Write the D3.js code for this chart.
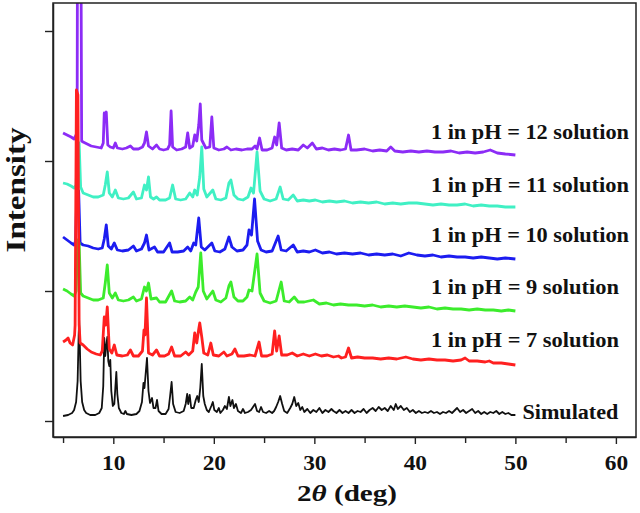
<!DOCTYPE html>
<html><head><meta charset="utf-8">
<script src="https://cdn.jsdelivr.net/npm/d3@7"></script>
<style>
body{margin:0;background:#fff;}
text{font-family:"Liberation Serif","Times New Roman",Times,serif;font-weight:bold;fill:#111;}
</style></head>
<body><svg id="chart" width="640" height="513"></svg>
<script>
// ---------------- DATA ----------------
const seriesNames = ["Simulated","1 in pH = 7 solution","1 in pH = 9 solution","1 in pH = 10 solution","1 in pH = 11 solution","1 in pH = 12 solution"];
const seriesOffsets = [5, 56, 110, 162, 214, 266];
const seriesColors = ["#111111","#ff2020","#3cec2c","#1c1cf0","#40f0c4","#8c2cf6"];

const simulated = [[5.0,0],[5.5,1],[5.9,3],[6.1,6],[6.3,14],[6.45,35],[6.55,80],[6.6,96],[6.65,80],[6.75,35],[6.9,14],[7.1,6],[7.3,3],[7.7,1],[8.2,1],[8.6,3],[8.85,8],[9.0,30],[9.1,78],[9.2,60],[9.3,70],[9.4,79],[9.5,55],[9.6,50],[9.7,56],[9.8,25],[9.95,10],[10.1,12],[10.2,28],[10.3,44],[10.4,22],[10.55,8],[10.8,3],[11.05,2],[11.2,5],[11.35,2],[11.8,1],[12.3,2],[12.6,5],[12.85,14],[13.0,33],[13.1,28],[13.2,40],[13.35,58],[13.5,25],[13.65,13],[13.85,18],[14.0,8],[14.2,8],[14.35,16],[14.5,5],[14.8,2],[15.2,2],[15.5,7],[15.65,20],[15.8,34],[15.95,12],[16.2,4],[16.6,3],[17.0,5],[17.2,12],[17.35,22],[17.45,12],[17.6,21],[17.75,8],[18.0,8],[18.2,16],[18.35,20],[18.5,14],[18.65,28],[18.8,52],[18.95,20],[19.1,12],[19.3,6],[19.5,4],[19.75,10],[19.9,14],[20.05,6],[20.3,4],[20.5,8],[20.65,3],[20.9,6],[21.1,10],[21.3,7],[21.5,19],[21.65,10],[21.85,16],[22.0,8],[22.2,12],[22.4,5],[22.7,3],[22.9,7],[23.1,3],[23.4,4],[23.7,6],[23.9,9],[24.1,12],[24.3,5],[24.5,4],[24.7,9],[24.9,4],[25.2,3],[25.5,5],[25.8,3],[26.0,5],[26.2,9],[26.4,14],[26.6,20],[26.8,12],[27.0,5],[27.3,3],[27.6,8],[27.8,12],[28.0,19],[28.2,10],[28.4,13],[28.6,6],[28.8,9],[29.0,4],[29.3,7],[29.6,3],[29.9,6],[30.2,4],[30.5,8],[30.8,3],[31.1,6],[31.4,4],[31.7,7],[31.9,5],[32.2,3],[32.5,6],[32.8,3],[33.1,5],[33.4,3],[33.7,6],[34.0,3],[34.3,5],[34.6,4],[34.9,7],[35.2,3],[35.5,6],[35.8,8],[36.1,5],[36.4,9],[36.7,6],[37.0,8],[37.3,5],[37.6,10],[37.9,6],[38.1,12],[38.3,7],[38.6,10],[38.9,6],[39.2,8],[39.5,4],[39.8,6],[40.1,3],[40.4,5],[40.7,3],[41.0,4],[41.3,3],[41.6,5],[41.9,3],[42.2,4],[42.5,2],[42.8,4],[43.1,3],[43.4,5],[43.7,3],[44.0,6],[44.2,8],[44.5,4],[44.8,6],[45.1,3],[45.4,5],[45.7,7],[46.0,3],[46.3,5],[46.6,2],[46.9,4],[47.2,2],[47.5,4],[47.8,3],[48.1,5],[48.4,2],[48.7,4],[49.0,2],[49.3,3],[49.6,1],[50.0,1]];

const pH7 = [[5.0,23],[5.3,25],[5.5,27],[5.7,22],[5.95,20],[6.15,30],[6.2,40],[6.33,275],[6.48,270],[6.6,40],[6.7,22],[7.0,20],[7.4,16],[7.8,13],[8.3,11],[8.7,10],[8.9,14],[9.1,48],[9.25,40],[9.4,58],[9.6,16],[9.85,12],[10.1,20],[10.35,10],[10.9,9],[11.4,10],[11.7,15],[12.0,9],[12.5,9],[12.9,14],[13.05,35],[13.15,30],[13.3,67],[13.5,12],[13.9,10],[14.3,15],[14.6,9],[15.1,9],[15.5,11],[15.8,18],[16.1,9],[16.7,9],[17.2,13],[17.5,10],[17.9,14],[18.1,32],[18.3,22],[18.5,36],[18.6,42],[18.8,28],[19.0,12],[19.4,10],[19.7,22],[19.95,10],[20.5,9],[21.0,13],[21.3,9],[21.8,11],[22.1,16],[22.4,9],[23.0,9],[23.6,10],[24.1,9],[24.5,23],[24.75,9],[25.3,9],[25.8,11],[26.05,34],[26.25,14],[26.5,29],[26.75,10],[27.3,10],[27.8,12],[28.3,9],[28.9,11],[29.5,9],[30.1,11],[30.7,9],[31.3,10],[31.9,8],[32.4,9],[32.7,7],[33.1,8],[33.4,17],[33.7,7],[34.3,8],[35.0,7],[35.8,7],[36.6,6],[37.4,7],[38.2,6],[39.1,8],[39.8,6],[40.6,5],[41.4,6],[42.2,5],[43.0,5],[43.8,4],[44.6,5],[45.0,7],[45.4,4],[46.2,4],[47.0,3],[47.4,4],[47.8,2],[48.6,2],[49.3,1],[50.0,0]];

const pH9 = [[5.0,22],[5.4,20],[5.8,17],[6.1,15],[6.3,20],[6.45,71],[6.6,68],[6.75,18],[7.0,15],[7.5,13],[8.0,11],[8.5,11],[9.0,13],[9.2,28],[9.4,46],[9.6,18],[9.9,13],[10.2,18],[10.5,11],[11.0,10],[11.5,11],[12.0,14],[12.3,10],[12.8,12],[13.1,24],[13.3,20],[13.5,28],[13.75,12],[14.3,13],[14.6,9],[15.2,9],[15.8,20],[16.1,10],[16.6,9],[17.2,10],[17.6,14],[17.9,11],[18.2,19],[18.45,24],[18.7,58],[18.95,20],[19.3,12],[19.9,20],[20.2,11],[20.7,9],[21.2,13],[21.5,25],[21.7,29],[22.0,14],[22.4,10],[22.9,10],[23.3,14],[23.5,21],[23.8,20],[24.3,57],[24.6,18],[25.0,10],[25.6,8],[26.2,10],[26.7,29],[27.0,10],[27.5,9],[28.0,14],[28.4,9],[29.0,9],[29.9,11],[30.5,7],[31.2,8],[31.9,6],[32.6,7],[33.4,6],[34.2,6],[35.0,5],[35.8,6],[36.6,4],[37.4,5],[38.2,4],[39.0,5],[39.8,4],[40.6,3],[41.4,4],[42.2,2],[43.0,3],[43.8,2],[44.6,2],[45.4,1],[46.2,2],[47.0,1],[47.8,1],[48.6,0],[49.3,1],[50.0,0]];

const pH10 = [[5.0,22],[5.4,19],[5.8,16],[6.1,14],[6.25,18],[6.38,70],[6.55,68],[6.7,16],[7.0,14],[7.5,13],[8.0,11],[8.5,10],[8.9,11],[9.1,20],[9.3,34],[9.5,13],[9.8,10],[10.1,16],[10.4,9],[10.9,8],[11.5,9],[12.0,13],[12.3,8],[12.8,10],[13.1,16],[13.3,24],[13.55,9],[14.1,12],[14.4,7],[15.0,7],[15.6,16],[15.85,7],[16.4,7],[17.0,8],[17.4,12],[17.7,8],[18.0,16],[18.2,14],[18.5,41],[18.75,12],[19.1,9],[19.8,16],[20.1,8],[20.6,7],[21.1,10],[21.5,22],[21.8,12],[22.3,8],[22.9,9],[23.3,14],[23.5,29],[23.75,24],[24.05,60],[24.35,18],[24.7,9],[25.2,7],[25.8,8],[26.4,23],[26.7,9],[27.2,8],[27.9,14],[28.3,7],[28.9,8],[29.5,7],[30.1,9],[30.8,6],[31.5,7],[32.2,5],[33.0,6],[33.8,5],[34.6,6],[35.4,4],[36.2,5],[37.0,4],[37.8,5],[38.6,3],[39.4,6],[40.2,4],[41.0,3],[41.8,4],[42.6,2],[43.4,3],[44.2,2],[45.0,2],[45.8,1],[46.6,2],[47.4,1],[48.2,0],[49.0,1],[50.0,0]];

const pH11 = [[5.0,24],[5.4,23],[5.8,21],[6.1,19],[6.3,22],[6.45,64],[6.6,64],[6.75,20],[7.0,14],[7.5,12],[8.0,10],[8.5,10],[9.0,12],[9.2,22],[9.4,35],[9.6,14],[9.9,10],[10.2,17],[10.5,9],[11.0,8],[11.5,9],[12.0,15],[12.3,8],[12.8,9],[13.1,22],[13.3,17],[13.5,30],[13.7,10],[14.0,8],[14.3,10],[14.6,7],[15.2,7],[15.6,9],[15.9,22],[16.2,8],[16.7,7],[17.2,8],[17.6,14],[17.9,10],[18.1,17],[18.35,12],[18.6,30],[18.8,60],[19.0,18],[19.3,10],[19.9,17],[20.2,8],[20.7,7],[21.2,9],[21.5,24],[21.7,27],[22.0,12],[22.4,8],[22.9,7],[23.4,10],[23.7,19],[23.95,14],[24.3,55],[24.6,16],[25.0,8],[25.6,6],[26.2,8],[26.6,20],[26.9,8],[27.4,7],[27.9,12],[28.3,6],[28.9,7],[29.5,6],[30.1,7],[30.8,5],[31.5,6],[32.2,5],[33.0,6],[33.8,4],[34.6,5],[35.4,4],[36.2,5],[37.0,3],[37.8,4],[38.6,3],[39.4,4],[40.2,4],[41.0,3],[41.8,2],[42.6,3],[43.4,2],[44.2,2],[45.0,3],[45.8,1],[46.6,2],[47.4,1],[48.2,1],[49.0,0],[50.0,0]];

const pH12 = [[5.0,22],[5.4,20],[5.8,18],[6.1,16],[6.3,20],[6.4,25],[6.45,300],[6.75,300],[6.85,14],[7.0,13],[7.4,11],[7.8,9],[8.3,8],[8.8,7],[9.0,12],[9.1,42],[9.2,38],[9.3,43],[9.45,10],[9.7,8],[10.0,7],[10.2,12],[10.4,7],[10.9,6],[11.3,7],[11.7,9],[12.0,6],[12.5,6],[12.9,8],[13.1,12],[13.3,23],[13.5,9],[13.9,6],[14.3,10],[14.6,6],[15.0,5],[15.4,6],[15.6,10],[15.75,44],[15.9,8],[16.3,5],[16.8,6],[17.2,8],[17.4,22],[17.6,7],[17.9,9],[18.1,20],[18.3,14],[18.5,30],[18.65,51],[18.8,15],[19.2,7],[19.6,8],[19.8,38],[20.0,7],[20.5,5],[21.0,6],[21.3,8],[21.7,5],[22.2,6],[22.8,5],[23.3,6],[23.8,6],[24.1,9],[24.3,6],[24.55,17],[24.8,5],[25.3,5],[25.8,7],[26.05,18],[26.25,10],[26.5,32],[26.75,7],[27.2,5],[27.8,6],[28.4,5],[28.9,10],[29.3,7],[29.8,12],[30.2,6],[30.8,7],[31.4,5],[32.0,6],[32.6,5],[33.1,6],[33.4,20],[33.65,5],[34.2,5],[35.0,6],[35.8,4],[36.5,5],[37.2,4],[37.6,8],[38.0,4],[38.8,3],[39.6,4],[40.4,3],[41.2,4],[42.0,3],[42.8,3],[43.6,4],[44.4,2],[45.2,3],[46.0,2],[46.8,3],[47.5,5],[48.2,2],[49.0,1],[50.0,0]];

const seriesData = [simulated, pH7, pH9, pH10, pH11, pH12];
const xMajorTicks = [10, 20, 30, 40, 50, 60];
const xMinorTicks = [5, 15, 25, 35, 45, 55];
const yTicks = [0, 130, 260, 390];

// ---------------- LAYOUT ----------------
const W = 640, H = 513;
const margin = {left: 53, top: 3, right: 4, bottom: 76};
const labelTheta = [50.7, 41.6, 41.6, 41.6, 41.6, 41.6];
const labelLift = [-2.5, 18.5, 17.5, 17.5, 15.5, 16.5];
const labelLen = [96, 188, 188, 198, 198, 198];
const drawOrder = [5, 4, 3, 2, 0, 1];

const svg = d3.select("#chart");
svg.append("rect").attr("width", W).attr("height", H).attr("fill", "#fff");

const x = d3.scaleLinear().domain([4, 62]).range([margin.left, W - margin.right]);
const y = d3.scaleLinear().domain([-16, 418]).range([H - margin.bottom, margin.top]);

svg.append("clipPath").attr("id", "clip").append("rect")
  .attr("x", margin.left).attr("y", margin.top)
  .attr("width", W - margin.left - margin.right).attr("height", H - margin.top - margin.bottom);

const line = d3.line().x(d => x(d[0])).y(d => y(d[1]));

const g = svg.append("g").attr("clip-path", "url(#clip)");
drawOrder.forEach(i => {
  const off = seriesOffsets[i];
  g.append("path")
    .datum(seriesData[i].map(d => [d[0], d[1] + off]))
    .attr("fill", "none")
    .attr("stroke", seriesColors[i])
    .attr("stroke-width", i === 0 ? 1.8 : 2.8)
    .attr("stroke-linejoin", "round")
    .attr("d", line);
});

// series labels
seriesNames.forEach((name, i) => {
  svg.append("text")
    .attr("x", x(labelTheta[i]))
    .attr("y", y(seriesOffsets[i] + labelLift[i]))
    .attr("font-size", 20)
    .attr("textLength", labelLen[i])
    .attr("lengthAdjust", "spacingAndGlyphs")
    .text(name);
});

// axes
const xAxis = svg.append("g").attr("transform", `translate(0,${H - margin.bottom})`)
  .call(d3.axisBottom(x).tickValues(xMajorTicks).tickSize(7).tickPadding(12).tickSizeOuter(0));
xAxis.selectAll("text").attr("font-size", 20).attr("fill", "#111")
  .attr("transform", "scale(1.17,1)");
svg.append("g").attr("transform", `translate(0,${H - margin.bottom})`)
  .call(d3.axisBottom(x).tickValues(xMinorTicks).tickSize(6).tickFormat("").tickSizeOuter(0))
  .select(".domain").remove();

svg.append("g").attr("transform", `translate(${margin.left},0)`)
  .call(d3.axisLeft(y).tickValues(yTicks).tickSize(8).tickFormat("").tickSizeOuter(0));

svg.selectAll(".tick line").attr("stroke", "#222").attr("stroke-width", 1.4);
svg.selectAll(".domain").attr("stroke", "#222").attr("stroke-width", 1.5);

// frame
svg.append("rect")
  .attr("x", margin.left).attr("y", margin.top)
  .attr("width", W - margin.left - margin.right).attr("height", H - margin.top - margin.bottom)
  .attr("fill", "none").attr("stroke", "#222").attr("stroke-width", 1.5);

// axis titles
const xt = svg.append("text")
  .attr("x", 347).attr("y", 501).attr("text-anchor", "middle")
  .attr("font-size", 24).attr("textLength", 100).attr("lengthAdjust", "spacingAndGlyphs");
xt.append("tspan").text("2");
xt.append("tspan").attr("font-style", "italic").text("θ");
xt.append("tspan").text(" (deg)");

svg.append("text")
  .attr("transform", "translate(25,190) rotate(-90)")
  .attr("text-anchor", "middle")
  .attr("font-size", 27)
  .attr("textLength", 125).attr("lengthAdjust", "spacingAndGlyphs")
  .text("Intensity");
</script></body></html>
